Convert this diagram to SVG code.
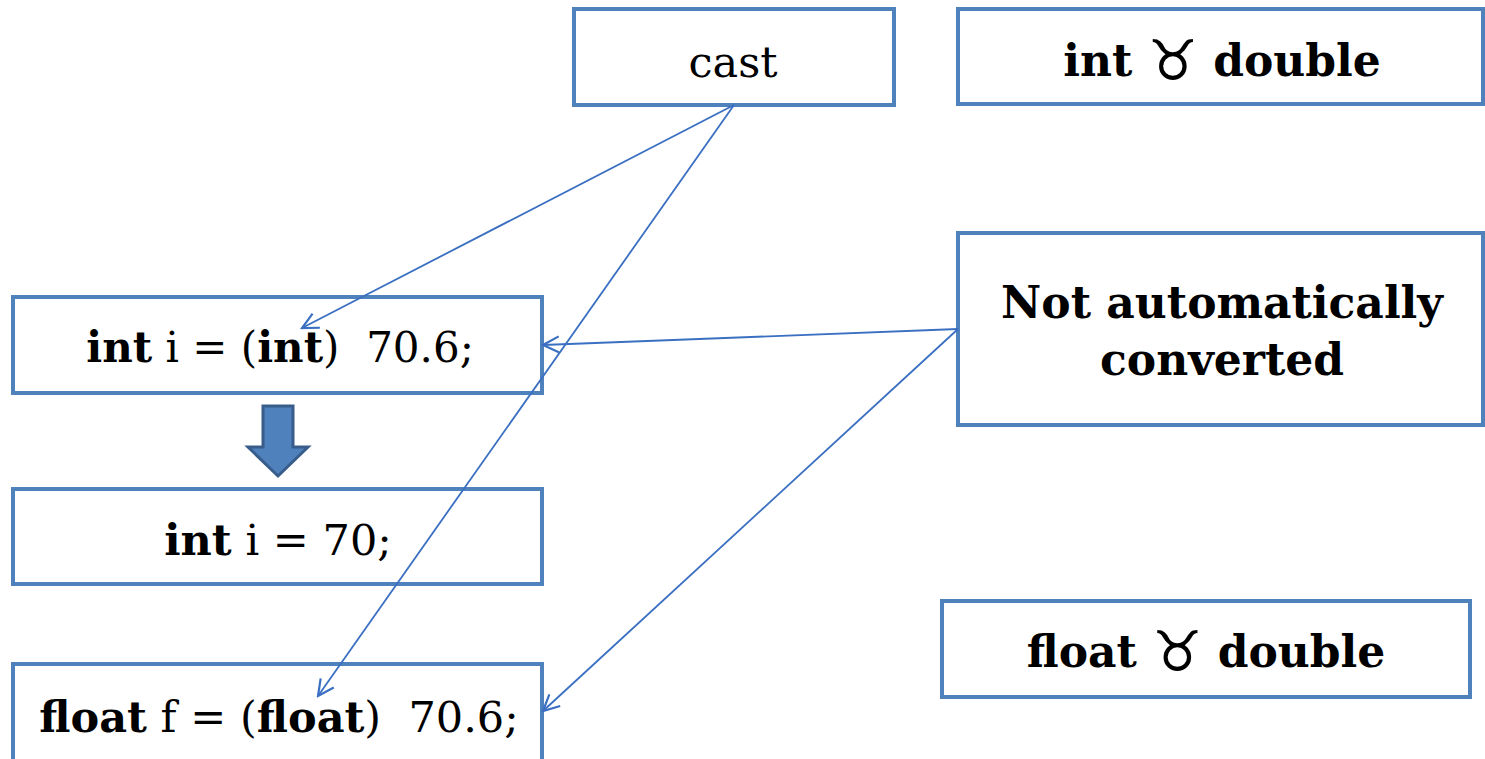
<svg xmlns="http://www.w3.org/2000/svg" width="1485" height="759" viewBox="0 0 1485 759">
  <style>
    .box { fill: #ffffff; stroke: #4f81bd; stroke-width: 4; }
    .t { font-family: "DejaVu Serif", "Liberation Serif", serif; font-size: 43px; fill: #000; text-anchor: middle; }
    .h { font-size: 44px; font-weight: bold; }
    .s { font-size: 42px; }
    .b { font-weight: bold; }
    .sym { font-weight: normal; font-family: "DejaVu Sans", sans-serif; font-size: 56px; }
    .conn { fill: none; stroke: #3a6fc1; stroke-width: 1.8; marker-end: url(#open); }
  </style>
  <defs>
    <marker id="open" viewBox="0 0 20 20" refX="18" refY="10" markerWidth="20" markerHeight="20" markerUnits="userSpaceOnUse" orient="auto">
      <path d="M2,2 L18,10 L2,18" fill="none" stroke="#3a6fc1" stroke-width="2.2"/>
    </marker>
  </defs>

  <g id="node-cast">
    <rect class="box" x="574" y="9" width="320" height="96"/>
    <text class="t" x="733" y="77">cast</text>
  </g>
  <g id="node-int-double">
    <rect class="box" x="958" y="9" width="525" height="95"/>
    <text class="t h" x="1222" y="76">int <tspan class="sym" dy="4">♉</tspan><tspan dy="-4"> double</tspan></text>
  </g>
  <g id="node-not-converted">
    <rect class="box" x="958" y="233" width="525" height="192"/>
    <text class="t h" x="1222" y="318">Not automatically</text>
    <text class="t h" x="1222" y="375">converted</text>
  </g>
  <g id="node-int-cast">
    <rect class="box" x="13" y="297" width="529" height="96"/>
    <text class="t s" x="280" y="362" xml:space="preserve"><tspan class="b">int</tspan> i = (<tspan class="b">int</tspan>)  70.6;</text>
  </g>
  <g id="node-int-result">
    <rect class="box" x="13" y="489" width="529" height="95"/>
    <text class="t" x="278" y="555"><tspan class="b">int</tspan> i = 70;</text>
  </g>
  <g id="node-float-cast">
    <rect class="box" x="13" y="664" width="529" height="110"/>
    <text class="t" x="279" y="732" xml:space="preserve"><tspan class="b">float</tspan> f = (<tspan class="b">float</tspan>)  70.6;</text>
  </g>
  <g id="node-float-double">
    <rect class="box" x="942" y="601" width="528" height="96"/>
    <text class="t h" x="1206" y="667">float <tspan class="sym" dy="4">♉</tspan><tspan dy="-4"> double</tspan></text>
  </g>
  <g id="block-arrow">
    <path d="M263,406 L293,406 L293,447 L308,447 L278,476 L248,447 L263,447 Z" fill="#4f81bd" stroke="#385d8a" stroke-width="3" stroke-linejoin="miter"/>
  </g>

  <g id="connectors">
    <line class="conn" x1="734" y1="105" x2="302" y2="328"/>
    <line class="conn" x1="734" y1="105" x2="318" y2="696"/>
    <line class="conn" x1="958" y1="329" x2="543" y2="345"/>
    <line class="conn" x1="958" y1="329" x2="543" y2="711"/>
  </g>
</svg>
